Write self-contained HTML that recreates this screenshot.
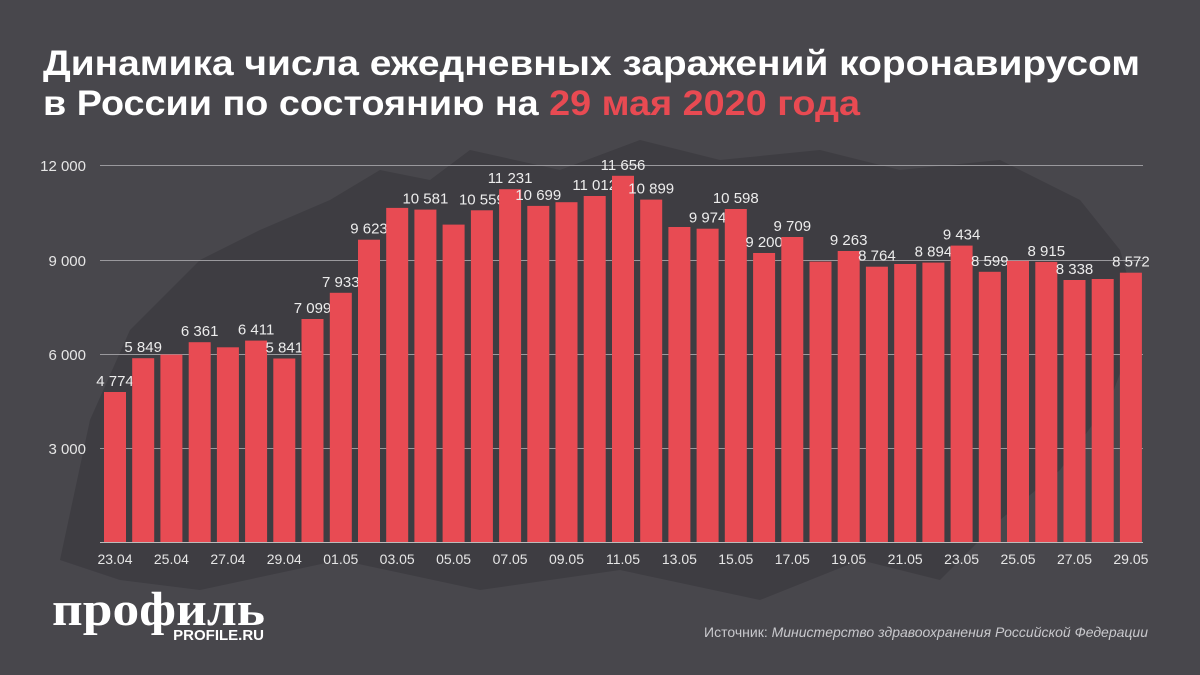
<!DOCTYPE html>
<html><head><meta charset="utf-8"><style>
body{margin:0;width:1200px;height:675px;background:#48474c;overflow:hidden;font-family:"Liberation Sans",sans-serif}
</style></head><body>
<svg width="1200" height="675" xmlns="http://www.w3.org/2000/svg" style="position:absolute;left:0;top:0">
<path d="M60 560 L90 420 L130 330 L200 260 L260 230 L330 200 L380 170 L430 180 L470 150 L560 170 L640 140 L720 160 L820 150 L900 170 L1000 160 L1080 200 L1120 250 L1140 320 L1110 400 L1060 470 L1000 520 L940 580 L860 560 L760 600 L620 570 L480 590 L340 560 L200 590 L120 580 Z" fill="#3e3d42"/>
<text x="43" y="75" font-family="Liberation Sans,sans-serif" font-weight="bold" font-size="35" fill="#fff" textLength="1097" lengthAdjust="spacingAndGlyphs">Динамика числа ежедневных заражений коронавирусом</text>
<text x="43" y="115" font-family="Liberation Sans,sans-serif" font-weight="bold" font-size="35" fill="#fff" textLength="817" lengthAdjust="spacingAndGlyphs">в России по состоянию на <tspan fill="#e84a52">29 мая 2020 года</tspan></text>
<g stroke="#9a999d" stroke-width="1">
<line x1="100" x2="1143" y1="165.5" y2="165.5"/><line x1="100" x2="1143" y1="260.5" y2="260.5"/>
<line x1="100" x2="1143" y1="354.5" y2="354.5"/><line x1="100" x2="1143" y1="448.5" y2="448.5"/>
<line x1="100" x2="1143" y1="542.5" y2="542.5" stroke="#bbb"/></g>
<g font-size="15" fill="#e6e6e6" text-anchor="end" font-family="Liberation Sans,sans-serif">
<text x="86" y="171">12 000</text><text x="86" y="266">9 000</text><text x="86" y="360">6 000</text><text x="86" y="454">3 000</text></g>
<g id="bars"></g>
<text x="1148" y="637" text-anchor="end" font-size="14" fill="#c8c8cc" font-family="Liberation Sans,sans-serif">Источник: <tspan font-style="italic">Министерство здравоохранения Российской Федерации</tspan></text>
<text x="52" y="625" font-family="Liberation Serif,serif" font-weight="bold" font-size="48" fill="#fff" textLength="213" lengthAdjust="spacingAndGlyphs">профиль</text>
<text x="264" y="640" text-anchor="end" font-family="Liberation Sans,sans-serif" font-weight="bold" font-size="15" fill="#fff">PROFILE.RU</text>
</svg>
<script>
var v=[4774,5849,5966,6361,6198,6411,5841,7099,7933,9623,10633,10581,10102,10559,11231,10699,10817,11012,11656,10899,10028,9974,10598,9200,9709,8926,9263,8764,8849,8894,9434,8599,8946,8915,8338,8371,8572];
var lab={0:1,1:1,3:1,5:1,6:1,7:1,8:1,9:1,11:1,13:1,14:1,15:1,17:1,18:1,19:1,21:1,22:1,23:1,24:1,26:1,27:1,29:1,30:1,31:1,33:1,34:1,36:1};
var s='',g=document.getElementById('bars');
function f(n){var t=String(n);return t.length>3?t.slice(0,-3)+' '+t.slice(-3):t}
for(var i=0;i<v.length;i++){var x=104+i*28.22,h=v[i]/12000*377,y=542-h;
s+='<rect x="'+x.toFixed(1)+'" y="'+y.toFixed(1)+'" width="22" height="'+h.toFixed(1)+'" fill="#e84b53"/>';
if(lab[i])s+='<text x="'+(x+11).toFixed(1)+'" y="'+(y-6).toFixed(1)+'" text-anchor="middle" font-size="15" fill="#ececec" font-family="Liberation Sans,sans-serif">'+f(v[i])+'</text>';
}
var d=['23.04','25.04','27.04','29.04','01.05','03.05','05.05','07.05','09.05','11.05','13.05','15.05','17.05','19.05','21.05','23.05','25.05','27.05','29.05'];
for(var j=0;j<d.length;j++){var x=104+j*2*28.22+11;s+='<text x="'+x.toFixed(1)+'" y="564" text-anchor="middle" font-size="14" fill="#e6e6e6" font-family="Liberation Sans,sans-serif">'+d[j]+'</text>';}
g.innerHTML=s;
</script>
</body></html>
